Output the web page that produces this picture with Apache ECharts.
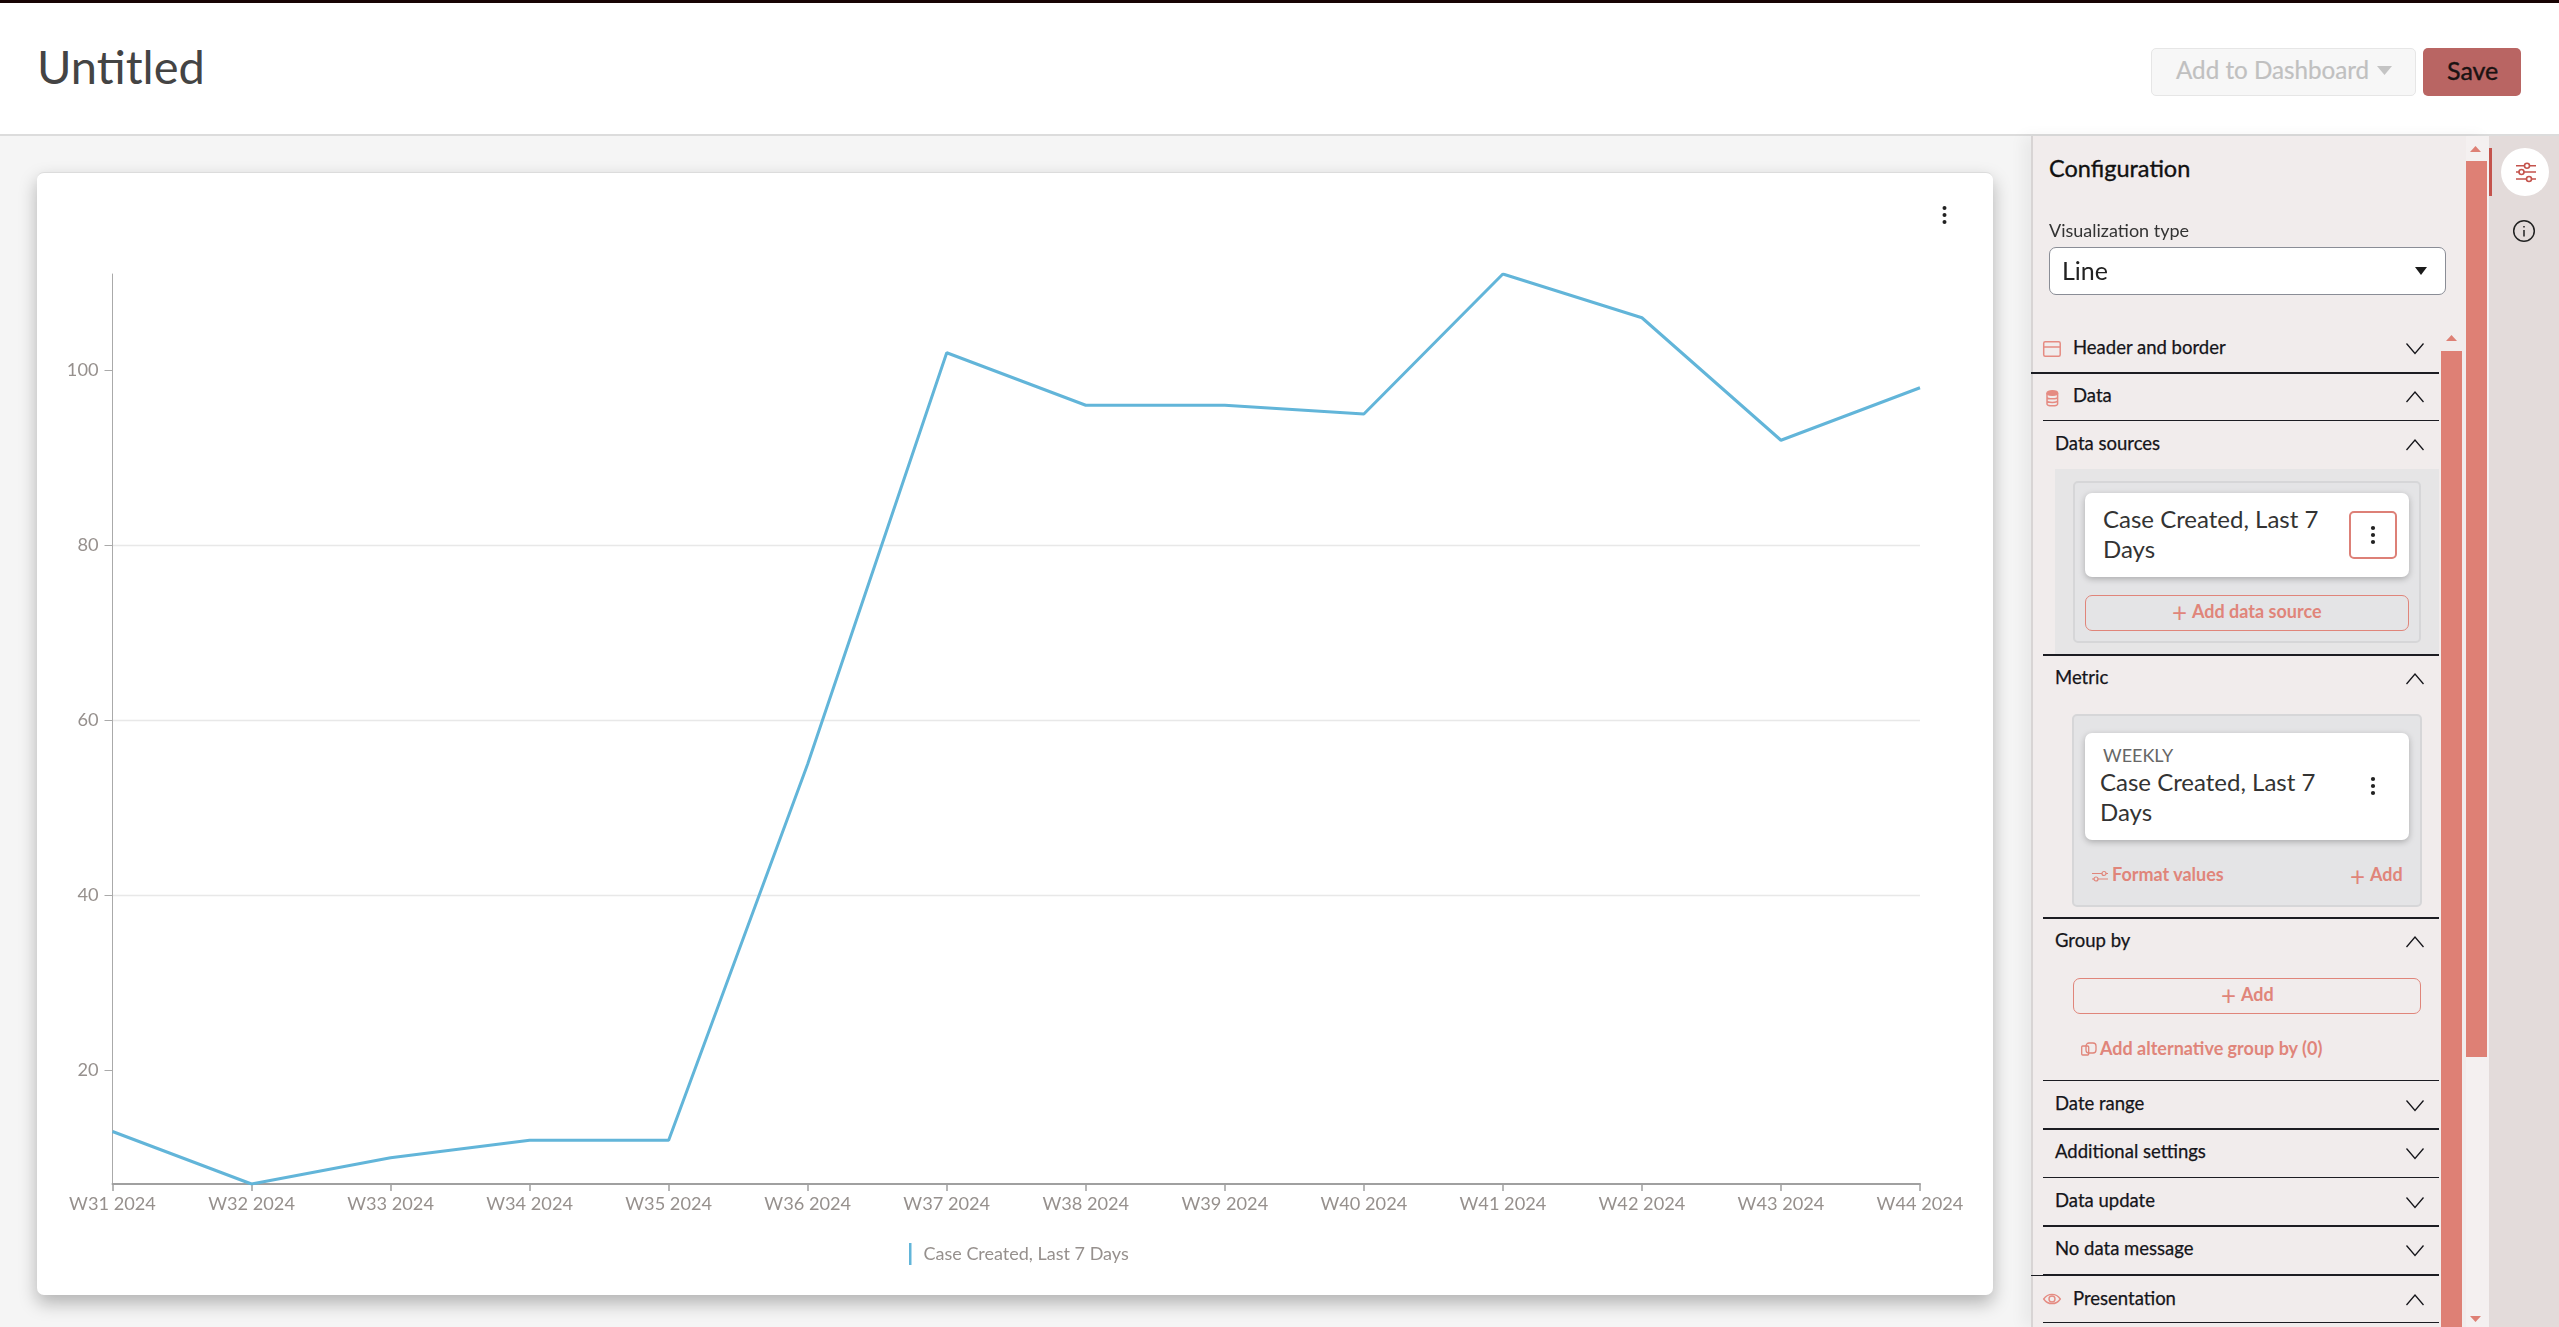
<!DOCTYPE html>
<html lang="en">
<head>
  <meta charset="UTF-8">
  <title>Untitled</title>
  <script src="https://cdn.jsdelivr.net/npm/echarts@6/dist/echarts.min.js"></script>
  <style>
    html, body { margin: 0; padding: 0; width: 2559px; height: 1327px; overflow: hidden; background: #f5f5f5; font-family: Lato, sans-serif; }
    .a { position: absolute; box-sizing: border-box; }
    .t { position: absolute; white-space: nowrap; line-height: 1; transform: translateY(calc(-50% - 1px)); }
    #topbar { left: 0; top: 0; width: 2559px; height: 3px; background: #170404; }
    #header { left: 0; top: 3px; width: 2559px; height: 133px; background: #fff; border-bottom: 2px solid #dcdcdc; }
    #title { left: 37px; top: 67px; font-size: 47px; font-weight: 400; color: #444; }
    #addDash { left: 2151px; top: 48px; width: 265px; height: 48px; background: #f7f7f7; border: 1px solid #e6e6e6; border-radius: 5px; }
    #save { left: 2423px; top: 48px; width: 98px; height: 48px; background: #b96563; border-radius: 5px; }
    #card { left: 37px; top: 172px; width: 1956px; height: 1123px; background: #fff; border-radius: 7px; border-top: 1px solid #dcdcdc; box-shadow: 0 8px 18px rgba(0,0,0,.28); }
    #chart { position: absolute; left: 37px; top: 172px; width: 1957px; height: 1123px; }
    #panel { left: 2031px; top: 136px; width: 458px; height: 1191px; background: #f1ecec; border-left: 2px solid #d8d4d4; box-shadow: -8px 0 14px rgba(0,0,0,.05); }
    #rail { left: 2489px; top: 136px; width: 70px; height: 1191px; background: #e3dbda; }
    .sb { background: #de8075; }
    .line { position: absolute; background: #1c1c22; }
    .row { font-size: 18.5px; color: #15151a; -webkit-text-stroke: .25px #15151a; }
    .red { color: #e0857a; font-weight: 700; font-size: 18px; }
    .body { font-size: 24px; color: #333; }
    .box { background: #e4e4e6; border: 2px solid #d6d6d8; border-radius: 5px; }
    .white { background: #fff; border-radius: 7px; box-shadow: 0 2px 6px rgba(0,0,0,.25); }
    .btn { border: 1.5px solid #e0857a; border-radius: 7px; }
    svg { position: absolute; overflow: visible; }
  </style>
</head>
<body>
  <div class="a" id="topbar"></div>
  <div class="a" id="header"></div>
  <div class="t" id="title">Untitled</div>
  <div class="a" id="addDash"></div>
  <div class="t" style="left:2176px;top:71px;font-size:24.2px;color:#c0c0c0;-webkit-text-stroke:.2px #c0c0c0">Add to Dashboard</div>
  <svg style="left:2377px;top:66px" width="16" height="10"><path d="M0 0H15L7.5 9Z" fill="#c4c4c4"/></svg>
  <div class="a" id="save"></div>
  <div class="t" style="left:2447px;top:71px;font-size:25px;color:#1a1212;-webkit-text-stroke:.4px #1a1212">Save</div>

  <div class="a" id="card"></div>
  <div id="chart"></div>
  <svg style="left:1941px;top:205px" width="8" height="20"><g fill="#222"><circle cx="3.5" cy="3" r="2"/><circle cx="3.5" cy="10" r="2"/><circle cx="3.5" cy="17" r="2"/></g></svg>

  <div class="a" id="panel"></div>
  <div class="a" id="rail"></div>
  <div class="a" style="left:2466px;top:136px;width:23px;height:1191px;background:#f4f0f0"></div>
  <svg style="left:2470px;top:146px" width="12" height="7"><path d="M0 6H11L5.5 0Z" fill="#de8075"/></svg>
  <div class="a sb" style="left:2466px;top:161px;width:21px;height:896px"></div>
  <svg style="left:2470px;top:1316px" width="12" height="7"><path d="M0 0H11L5.5 6Z" fill="#de8075"/></svg>
  <svg style="left:2446px;top:335px" width="12" height="7"><path d="M0 6H11L5.5 0Z" fill="#de8075"/></svg>
  <div class="a sb" style="left:2441px;top:351px;width:21px;height:976px"></div>
  <div class="a" style="left:2489px;top:148px;width:3px;height:48px;background:#c4534c"></div>
  <div class="a" style="left:2501px;top:148px;width:48px;height:48px;background:#fff;border-radius:50%"></div>
  <svg style="left:2516px;top:162px" width="20" height="20" fill="none" stroke="#c4534c" stroke-width="1.6">
    <path d="M0 3.7H8.5M13.5 3.7H20M0 10H3M8 10H20M0 17H10.5M15.5 17H20"/>
    <circle cx="11" cy="3.7" r="2.5"/><circle cx="5.5" cy="10" r="2.5"/><circle cx="13" cy="17" r="2.5"/>
  </svg>
  <svg style="left:2513px;top:220px" width="22" height="22" fill="none" stroke="#222" stroke-width="1.5">
    <circle cx="11" cy="11" r="10.3"/><path d="M11 10V16.5M11 6V7.6"/>
  </svg>

  <div class="t" style="left:2049px;top:170px;font-size:23.5px;color:#111;-webkit-text-stroke:.35px #111">Configuration</div>
  <div class="t" style="left:2049px;top:231px;font-size:18px;color:#333">Visualization type</div>
  <div class="a" style="left:2049px;top:247px;width:397px;height:48px;background:#fff;border:1.5px solid #8a8d96;border-radius:7px"></div>
  <div class="t" style="left:2062px;top:271px;font-size:25px;color:#222">Line</div>
  <svg style="left:2415px;top:267px" width="13" height="9"><path d="M0 0H12L6 8Z" fill="#1a1a1a"/></svg>

  <!-- Header and border -->
  <svg style="left:2043px;top:341px" width="18" height="16" fill="none" stroke="#e58b82" stroke-width="1.5"><rect x=".7" y=".7" width="16.5" height="14.5" rx="1.5"/><path d="M.7 6H17"/></svg>
  <div class="t row" style="left:2073px;top:348px">Header and border</div>
  <div class="line" style="left:2031px;top:372px;width:408px;height:2px"></div>
  <!-- Data -->
  <svg style="left:2046px;top:390px" width="13" height="17" fill="none" stroke="#e58b82" stroke-width="1.5"><ellipse cx="6.3" cy="3" rx="5.3" ry="2.3" fill="#e58b82"/><path d="M1 3V14C1 16.4 11.6 16.4 11.6 14V3M1 7C1 9.4 11.6 9.4 11.6 7M1 10.6C1 13 11.6 13 11.6 10.6"/></svg>
  <div class="t row" style="left:2073px;top:396px">Data</div>
  <div class="line" style="left:2043px;top:420px;width:396px;height:1px"></div>
  <!-- Data sources -->
  <div class="t row" style="left:2055px;top:444px">Data sources</div>
  <div class="a" style="left:2055px;top:469px;width:384px;height:185px;background:#e6e5e6"></div>
  <div class="a box" style="left:2073px;top:481px;width:348px;height:162px"></div>
  <div class="a white" style="left:2085px;top:493px;width:324px;height:84px"></div>
  <div class="t body" style="left:2103px;top:520px">Case Created, Last 7</div>
  <div class="t body" style="left:2103px;top:550px">Days</div>
  <div class="a" style="left:2349px;top:511px;width:48px;height:48px;border:2.5px solid #dd8077;border-radius:5px;background:#fff"></div>
  <svg style="left:2369px;top:525px" width="8" height="20"><g fill="#222"><circle cx="4" cy="3" r="2.1"/><circle cx="4" cy="10" r="2.1"/><circle cx="4" cy="17" r="2.1"/></g></svg>
  <div class="a btn" style="left:2085px;top:595px;width:324px;height:36px"></div>
  <div class="t red" style="left:2172px;top:613px;font-weight:400;font-size:26px">+</div>
  <div class="t red" style="left:2192px;top:612px">Add data source</div>
  <div class="line" style="left:2043px;top:654px;width:396px;height:2px"></div>
  <!-- Metric -->
  <div class="t row" style="left:2055px;top:678px">Metric</div>
  <div class="a box" style="left:2072px;top:714px;width:350px;height:193px"></div>
  <div class="a white" style="left:2085px;top:733px;width:324px;height:107px"></div>
  <div class="t" style="left:2103px;top:756px;font-size:18px;color:#666">WEEKLY</div>
  <div class="t body" style="left:2100px;top:783px">Case Created, Last 7</div>
  <div class="t body" style="left:2100px;top:813px">Days</div>
  <svg style="left:2369px;top:776px" width="8" height="20"><g fill="#222"><circle cx="4" cy="3" r="2.1"/><circle cx="4" cy="10" r="2.1"/><circle cx="4" cy="17" r="2.1"/></g></svg>
  <svg style="left:2092px;top:869px" width="16" height="14" fill="none" stroke="#e0857a" stroke-width="1.2"><path d="M0 4.5H10M14 4.5H16M0 10H2M6 10H16"/><circle cx="12" cy="4.5" r="2"/><circle cx="4" cy="10" r="2"/></svg>
  <div class="t red" style="left:2112px;top:875px">Format values</div>
  <div class="t red" style="left:2350px;top:877px;font-weight:400;font-size:26px">+</div>
  <div class="t red" style="left:2370px;top:875px">Add</div>
  <div class="line" style="left:2043px;top:917px;width:396px;height:2px"></div>
  <!-- Group by -->
  <div class="t row" style="left:2055px;top:941px">Group by</div>
  <div class="a btn" style="left:2073px;top:978px;width:348px;height:36px"></div>
  <div class="t red" style="left:2221px;top:996px;font-weight:400;font-size:26px">+</div>
  <div class="t red" style="left:2241px;top:995px">Add</div>
  <svg style="left:2081px;top:1041px" width="16" height="15" fill="none" stroke="#e0857a" stroke-width="1.3"><rect x=".7" y="5" width="7" height="9" rx="1"/><rect x="5" y="2" width="10" height="10" rx="3"/></svg>
  <div class="t red" style="left:2100px;top:1049px">Add alternative group by (0)</div>
  <div class="line" style="left:2043px;top:1080px;width:396px;height:1px"></div>
  <div class="t row" style="left:2055px;top:1104px">Date range</div>
  <div class="line" style="left:2043px;top:1128px;width:396px;height:2px"></div>
  <div class="t row" style="left:2055px;top:1152px">Additional settings</div>
  <div class="line" style="left:2043px;top:1177px;width:396px;height:1px"></div>
  <div class="t row" style="left:2055px;top:1201px">Data update</div>
  <div class="line" style="left:2043px;top:1225px;width:396px;height:2px"></div>
  <div class="t row" style="left:2055px;top:1249px">No data message</div>
  <div class="line" style="left:2043px;top:1274px;width:396px;height:2px"></div>
  <div class="line" style="left:2031px;top:1275px;width:12px;height:1px"></div>
  <svg style="left:2043px;top:1292px" width="18" height="14" fill="none" stroke="#e58b82" stroke-width="1.4"><path d="M.7 7C5 .8 13 .8 17.3 7C13 13.2 5 13.2 .7 7Z"/><circle cx="9" cy="7" r="3"/></svg>
  <div class="t row" style="left:2073px;top:1299px">Presentation</div>
  <div class="line" style="left:2043px;top:1322px;width:396px;height:1px"></div>

  <!-- chevrons -->
  <svg style="left:2406px;top:343px" width="18" height="12" fill="none" stroke="#15151a" stroke-width="1.3"><path d="M.5 .5L9 10.5L17.5 .5"/></svg>
  <svg style="left:2406px;top:391px" width="18" height="12" fill="none" stroke="#15151a" stroke-width="1.3"><path d="M.5 11L9 1L17.5 11"/></svg>
  <svg style="left:2406px;top:439px" width="18" height="12" fill="none" stroke="#15151a" stroke-width="1.3"><path d="M.5 11L9 1L17.5 11"/></svg>
  <svg style="left:2406px;top:673px" width="18" height="12" fill="none" stroke="#15151a" stroke-width="1.3"><path d="M.5 11L9 1L17.5 11"/></svg>
  <svg style="left:2406px;top:936px" width="18" height="12" fill="none" stroke="#15151a" stroke-width="1.3"><path d="M.5 11L9 1L17.5 11"/></svg>
  <svg style="left:2406px;top:1100px" width="18" height="12" fill="none" stroke="#15151a" stroke-width="1.3"><path d="M.5 .5L9 10.5L17.5 .5"/></svg>
  <svg style="left:2406px;top:1148px" width="18" height="12" fill="none" stroke="#15151a" stroke-width="1.3"><path d="M.5 .5L9 10.5L17.5 .5"/></svg>
  <svg style="left:2406px;top:1197px" width="18" height="12" fill="none" stroke="#15151a" stroke-width="1.3"><path d="M.5 .5L9 10.5L17.5 .5"/></svg>
  <svg style="left:2406px;top:1245px" width="18" height="12" fill="none" stroke="#15151a" stroke-width="1.3"><path d="M.5 .5L9 10.5L17.5 .5"/></svg>
  <svg style="left:2406px;top:1294px" width="18" height="12" fill="none" stroke="#15151a" stroke-width="1.3"><path d="M.5 11L9 1L17.5 11"/></svg>

  <script>
    const weeks = ['W31 2024', 'W32 2024', 'W33 2024', 'W34 2024', 'W35 2024', 'W36 2024', 'W37 2024',
      'W38 2024', 'W39 2024', 'W40 2024', 'W41 2024', 'W42 2024', 'W43 2024', 'W44 2024'];
    const caseCreated = [13, 7, 10, 12, 12, 55, 102, 96, 96, 95, 111, 106, 92, 98];
    const yTicks = [20, 40, 60, 80, 100];
    const seriesName = 'Case Created, Last 7 Days';

    const lineColor = '#62b5d9';
    const labelColor = '#96908d';

    var myChart = echarts.init(document.getElementById('chart'));

    var option = {
      animation: false,
      grid: { left: 75.5, right: 74, top: 102, bottom: 111, containLabel: false },
      legend: {
        data: [{ name: seriesName, icon: 'rect' }],
        left: 867, top: 1066,
        itemWidth: 2.5, itemHeight: 22, itemGap: 0,
        textStyle: { color: labelColor, fontFamily: 'Lato', fontSize: 18, padding: [0, 0, 0, 7] }
      },
      xAxis: {
        type: 'category',
        data: weeks,
        boundaryGap: false,
        axisLine: { lineStyle: { color: '#a0a0a0', width: 2 } },
        axisTick: { length: 7, alignWithLabel: true, lineStyle: { color: '#a0a0a0', width: 1.5 } },
        axisLabel: { color: labelColor, fontFamily: 'Lato', fontSize: 18.2, margin: 11, interval: 0 }
      },
      yAxis: {
        type: 'value',
        min: 7,
        max: 111,
        axisLine: { show: true, lineStyle: { color: '#aaa', width: 1 } },
        axisTick: { show: true, length: 8, customValues: yTicks, lineStyle: { color: '#aaa' } },
        axisLabel: { color: labelColor, fontFamily: 'Lato', fontSize: 18.2, margin: 14, customValues: yTicks },
        splitLine: { lineStyle: { color: '#e8e8e8', width: 1.3 }, showMinLine: false, showMaxLine: false }
      },
      series: [{
        name: seriesName,
        type: 'line',
        data: caseCreated,
        showSymbol: false,
        itemStyle: { color: lineColor },
        lineStyle: { color: lineColor, width: 3 }
      }]
    };

    myChart.setOption(option);
  </script>
</body>
</html>
